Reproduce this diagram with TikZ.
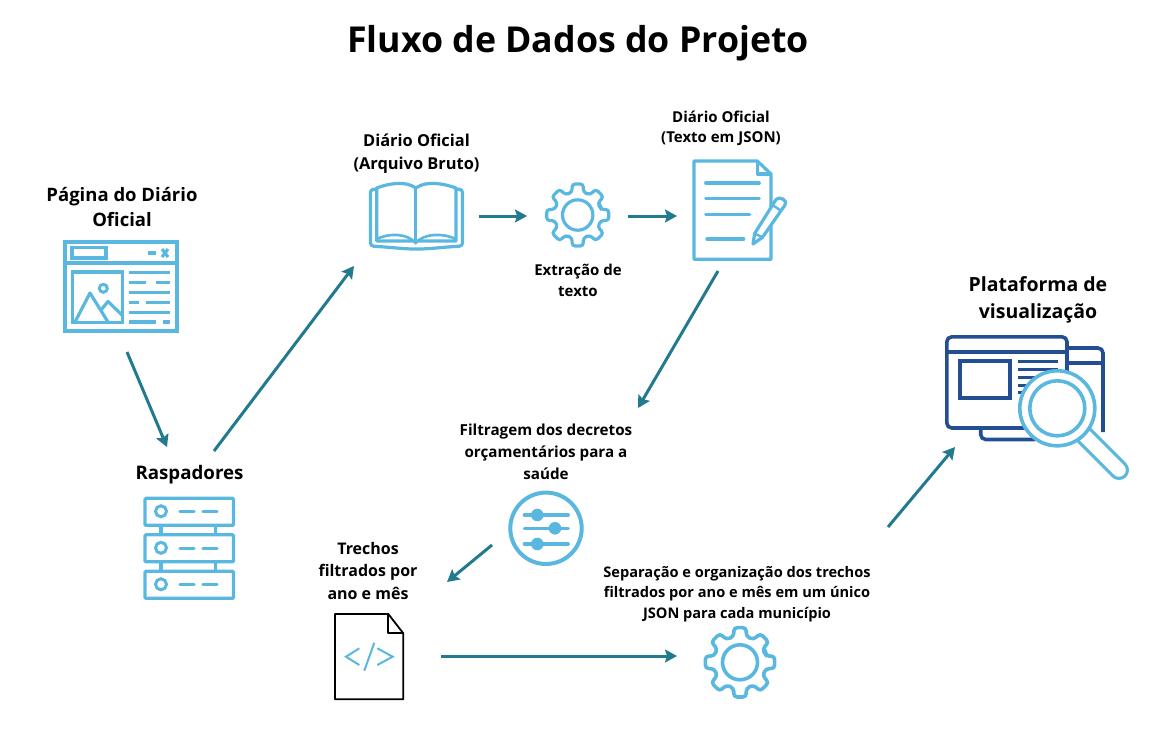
\documentclass[tikz,border=0pt]{standalone}
\usepackage{fontspec}
\setmainfont{Open Sans}[BoldFont=* Bold]
\usetikzlibrary{arrows.meta}
\definecolor{icon-blue}{RGB}{90,183,223}
\definecolor{icon-navy}{RGB}{35,78,145}
\definecolor{flow-teal}{RGB}{33,122,141}
\tikzset{
    iconline/.style = {draw=icon-blue, line width=3.2pt},
    navyline/.style = {draw=icon-navy, line width=3.6pt},
    flow/.style = {draw=flow-teal, line width=3pt, -{Stealth[length=12pt,width=13pt,inset=2pt]}},
    caption/.style 2 args = {align=center, inner sep=0pt, text=black, font=\bfseries\fontsize{#1}{#2}\selectfont},
    pics/webpage/.style = {
        code = {%
        \draw[iconline] (2,2) rectangle (114,91);
        \draw[iconline] (2,23) -- (114,23);
        \draw[iconline] (9,7.5) rectangle (43,18);
        \draw[iconline] (85,13) -- (93,13);
        \draw[iconline] (99,9) -- (105,17) (105,9) -- (99,17);
        \draw[iconline] (9.5,32) rectangle (59.5,82.5);
        \draw[iconline, line join=round] (12,82) -- (27,53) -- (45,82);
        \draw[iconline, line join=round] (38,70) -- (45,61.5) -- (60,76);
        \draw[iconline, line width=3pt] (40.3,48.3) circle (4);
        \draw[iconline] (65.7,32.3) -- (107,32.3);
        \draw[iconline] (65.7,42.3) -- (82.7,42.3) (92.7,42.3) -- (107,42.3);
        \draw[iconline] (65.7,52.3) -- (107,52.3);
        \draw[iconline] (65.7,62.3) -- (76,62.3) (82.7,62.3) -- (107,62.3);
        \draw[iconline] (65.7,72.3) -- (107,72.3);
        \draw[iconline] (65.7,82) -- (93,82) (100.3,82) -- (107,82);
        }
    },
    pics/servers/.style = {
        code = {%
        \foreach \y in {0,36.5,73}{
            \draw[iconline, rounded corners=1pt] (0,\y) rectangle (88.5,\y+27);
            \draw[iconline, line width=3pt] (16,\y+13) circle (5.5);
            \draw[iconline, line cap=round] (35,\y+13.3) -- (49,\y+13.3) (58,\y+13.3) -- (72,\y+13.3);
        }
        \foreach \y in {27,63.5}{
            \draw[iconline] (16,\y) -- (16,\y+9.5) (70.7,\y) -- (70.7,\y+9.5);
        }
        }
    },
    pics/book/.style = {
        code = {%
        \draw[iconline, line join=round] (7.7,7) .. controls (18,3) and (36,-1) .. (46.7,7)
            .. controls (58,-1) and (76,3) .. (87,7) -- (87,60) -- (7.7,60) -- cycle;
        \draw[iconline, line width=2.6pt] (7.7,58) .. controls (20,52) and (38,52) .. (46.7,62)
            .. controls (55,52) and (74,52) .. (87,58);
        \draw[iconline] (46.7,7) -- (46.7,62);
        \draw[iconline, rounded corners=3pt] (7.7,8) -- (1.5,8.5) -- (1.5,65)
            .. controls (18,66) and (36,68) .. (46.7,68)
            .. controls (60,68) and (76,66) .. (93.5,65) -- (93.5,8.5) -- (87,8);
        }
    },
    pics/gear/.style = {
        code = {%
        \draw[iconline, rounded corners=3pt] (-14:23.5)
            foreach \a in {0,45,...,315} { -- (\a-14:23.5) -- (\a-10:31.5) -- (\a+10:31.5) -- (\a+14:23.5) } -- cycle;
        \draw[iconline] (0,0) circle (15.2);
        }
    },
    pics/biggear/.style = {
        code = {%
        \draw[iconline, line width=3.6pt, rounded corners=3.4pt] (-14:26.5)
            foreach \a in {0,45,...,315} { -- (\a-14:26.5) -- (\a-10:35.2) -- (\a+10:35.2) -- (\a+14:26.5) } -- cycle;
        \draw[iconline, line width=3.6pt] (0,0) circle (17.5);
        }
    },
    pics/jsondoc/.style = {
        code = {%
        \draw[iconline, line join=round] (0,0) -- (63.3,0) -- (77,13) -- (77,98.3) -- (0,98.3) -- cycle;
        \draw[iconline, line join=round] (63.3,0) -- (63.3,13) -- (77,13);
        \draw[iconline, line cap=round] (11.7,22) -- (65.3,22);
        \draw[iconline, line cap=round] (11.7,37.7) -- (65.3,37.7);
        \draw[iconline, line cap=round] (11.7,53.7) -- (55.7,53.7);
        \draw[iconline, line cap=round] (13,78) -- (49.7,78);
        \draw[iconline, fill=white, line join=round] (59,83) -- (60.7,72.5) -- (82,38.5)
            .. controls (85,34.5) and (94.5,39.5) .. (91,44) -- (68.5,76.3) -- cycle;
        \draw[iconline, line width=2.4pt] (60.7,72.5) -- (68.5,76.3);
        \draw[iconline, line width=2.4pt] (78.5,44) -- (87.5,50);
        }
    },
    pics/sliders/.style = {
        code = {%
        \draw[iconline, line width=4pt] (0,0) circle (35.7);
        \draw[iconline, line cap=round] (-21.7,-13.3) -- (22.3,-13.3);
        \draw[iconline, line cap=round] (-21.7,0) -- (22.3,0);
        \draw[iconline, line cap=round] (-21.7,15.7) -- (22.3,15.7);
        \fill[icon-blue] (-8.7,-13.3) circle (6.3);
        \fill[icon-blue] (9,0) circle (6.3);
        \fill[icon-blue] (-8.7,15.7) circle (6.3);
        }
    },
    pics/codefile/.style = {
        code = {%
        \draw[line width=1.8pt, line join=round] (0,0) -- (53.3,0) -- (68.3,19.3) -- (68.3,85.3) -- (0,85.3) -- cycle;
        \draw[line width=1.8pt, line join=round] (53.3,0) -- (53.3,19.3) -- (68.3,19.3);
        \draw[iconline, line width=2pt] (24.3,34.3) -- (11,42.7) -- (24.3,51);
        \draw[iconline, line width=2pt] (42.3,34.3) -- (57.7,42.7) -- (42.3,51);
        \draw[iconline, line width=2pt] (39.3,28.7) -- (29.3,56.7);
        }
    },
    pics/platform/.style = {
        code = {%
        \draw[navyline, rounded corners=5pt] (120,13) -- (158,13) -- (158,97);
        \draw[navyline] (120,28) -- (158,28);
        \draw[navyline, rounded corners=5pt] (35.7,90) -- (35.7,104.5) -- (90,104.5);
        \draw[navyline, fill=white, rounded corners=5pt] (1.8,1.8) rectangle (122,93);
        \draw[navyline] (1.8,16.7) -- (122,16.7);
        \draw[navyline] (15,26) rectangle (65,63);
        \foreach \y in {26.7,34.3,42.3,50,57.7}{
            \draw[navyline, line width=3pt] (73.3,\y) -- (113.3,\y);
        }
        }
    },
    pics/lens/.style = {
        code = {%
        \draw[icon-blue, line width=20pt, line cap=round] (20,20) -- (61.7,61.7);
        \draw[white, line width=13.5pt, line cap=round] (20,20) -- (61.7,61.7);
        \draw[iconline, line width=3.6pt, fill=white] (0,0) circle (37.5);
        \draw[iconline, line width=3.6pt] (0,0) circle (27.5);
        }
    }
}
\begin{document}
\begin{tikzpicture}[x=1pt,y=-1pt]
\useasboundingbox (0,0) rectangle (1155,733);

\node[caption={35.7}{40}] (title) at (578,43) {Fluxo de Dados do Projeto};

\node[caption={18.5}{25}] (pagina) at (122,207) {Página do Diário\\Oficial};
\pic at (63,240) {webpage};
\node[caption={18.7}{22}] (raspadores) at (189.5,475) {Raspadores};
\pic at (145,498.3) {servers};
\node[caption={16.4}{23}] (bruto) at (416.5,153.5) {Diário Oficial\\(Arquivo Bruto)};
\pic at (369,181) {book};
\pic at (577.7,215) {gear};
\node[caption={15}{21}] (extracao) at (578,280.5) {Extração de\\texto};
\node[caption={15}{20}] (json) at (721,128) {Diário Oficial\\(Texto em JSON)};
\pic at (694,161) {jsondoc};
\node[caption={15.2}{22}] (filtragem) at (546,452) {Filtragem dos decretos\\orçamentários para a\\saúde};
\pic at (546,528.3) {sliders};
\node[caption={16}{22.5}] (trechos) at (368,570.5) {Trechos\\filtrados por\\ano e mês};
\pic at (335,614) {codefile};
\node[caption={14.6}{20.5}] (separacao) at (737,594) {Separação e organização dos trechos\\filtrados por ano e mês em um único\\JSON para cada município};
\pic at (740,662.3) {biggear};
\node[caption={19.5}{27}] (plataforma) at (1038,299.5) {Plataforma de\\visualização};
\pic at (945,335) {platform};
\pic at (1057.3,408.3) {lens};

\coordinate (web-out) at (127,352);
\coordinate (rasp-in) at (167,447);
\coordinate (rasp-out) at (214,451);
\coordinate (book-in) at (354,266);
\coordinate (book-out) at (479,216);
\coordinate (gear-in) at (527,216);
\coordinate (gear-out) at (628,216);
\coordinate (doc-in) at (677,216);
\coordinate (doc-out) at (718,271);
\coordinate (filter-in) at (638,408);
\coordinate (filter-out) at (492,545);
\coordinate (trechos-in) at (447,582);
\coordinate (code-out) at (441,656);
\coordinate (sep-in) at (677,656);
\coordinate (sep-out) at (888,527);
\coordinate (plat-in) at (955,447);

\draw[flow] (web-out) -- (rasp-in);
\draw[flow] (rasp-out) -- (book-in);
\draw[flow] (book-out) -- (gear-in);
\draw[flow] (gear-out) -- (doc-in);
\draw[flow] (doc-out) -- (filter-in);
\draw[flow] (filter-out) -- (trechos-in);
\draw[flow] (code-out) -- (sep-in);
\draw[flow] (sep-out) -- (plat-in);
\end{tikzpicture}
\end{document}
